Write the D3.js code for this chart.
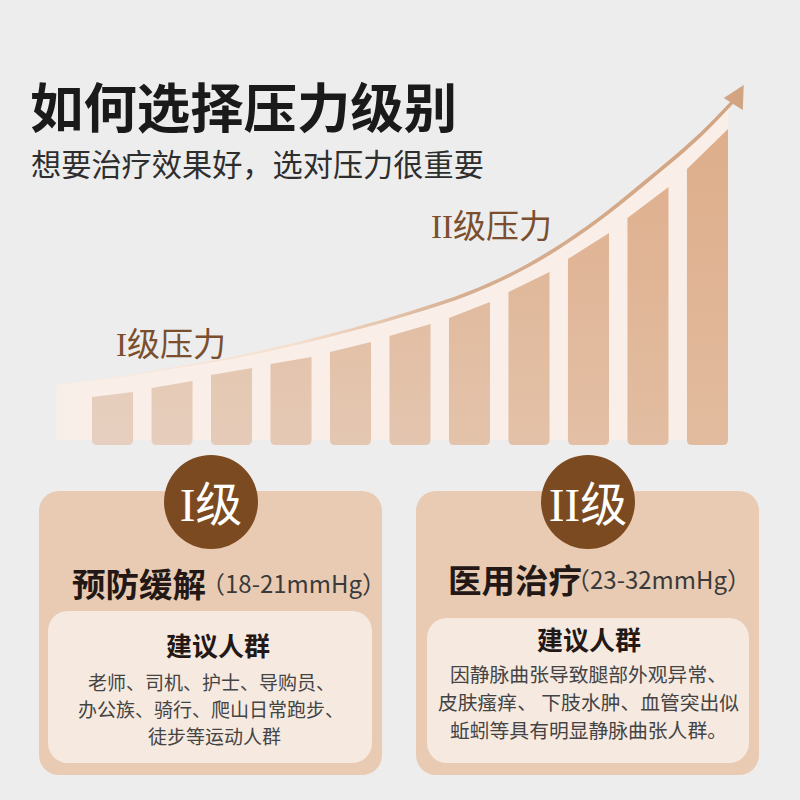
<!DOCTYPE html>
<html lang="zh">
<head>
  <meta charset="UTF-8">
  <title>如何选择压力级别</title>
  <script src="https://d3js.org/d3.v7.min.js"></script>
  <style>
    body { margin: 0; background: #ededed; }
    svg { display: block; }
    text { font-family: "Noto Sans CJK SC", "Noto Sans", sans-serif; }
    .serif { font-family: "Liberation Serif", "Noto Sans CJK SC", serif; font-weight: 400; }
  </style>
</head>
<body>
<svg id="chart" width="800" height="800"></svg>
<script>
// bars
const barNames = ["1", "2", "3", "4", "5", "6", "7", "8", "9", "10", "11"];
const barLeftValues = [48, 57, 70, 81, 93, 109, 127, 153, 186, 227, 276];
const barRightValues = [53, 64, 77, 88, 103, 121, 143, 173, 212, 258, 316];

// rising curve, position in bar steps
const curveSteps = [-0.95, 0, 1, 2, 3, 4, 5, 6, 7, 8, 9, 10, 10.45];
const curveValues = [60, 67, 77, 87, 100, 115, 132, 152, 180, 218, 265, 317, 345];
const curveThickness = [0.5, 1, 1.5, 2, 2.5, 3, 3.4, 3.8, 4.2, 4.6, 5, 5.2, 5.2];
const ribbonEnd = [10.35, 338];
const arrowTip = [10.61, 360];

const title = "如何选择压力级别";
const subtitle = "想要治疗效果好，选对压力很重要";
const levelLabels = ["I级压力", "II级压力"];
const badgeLabels = ["I级", "II级"];
const cardNames = ["预防缓解", "医用治疗"];
const cardRanges = ["（18-21mmHg）", "（23-32mmHg）"];
const cardHeading = "建议人群";
const cardLinesA = ["老师、司机、护士、导购员、", "办公族、骑行、爬山日常跑步、", "徒步等运动人群"];
const cardLinesB = ["因静脉曲张导致腿部外观异常、", "皮肤瘙痒、 下肢水肿、血管突出似", "蚯蚓等具有明显静脉曲张人群。"];

const svg = d3.select("#chart");
const defs = svg.append("defs");

const x = d3.scaleBand().domain(barNames).range([92, 728]).paddingInner(0.31);
const y = d3.scaleLinear().domain([0, 400]).range([445, 45]);
const stepX = d3.scaleLinear()
  .domain([0, 10])
  .range([x("1") + x.bandwidth() / 2, x("11") + x.bandwidth() / 2]);

const shade = d3.scaleLinear().domain([0, 10]).range([0, 1]);
const topColor = d3.interpolateRgb("#e6cebc", "#deae8b");
const bottomColor = d3.interpolateRgb("#e6cfbf", "#e2bb9e");

function addGradient(id, dir, stops) {
  const g = defs.append("linearGradient").attr("id", id)
    .attr("x1", 0).attr("y1", 0)
    .attr("x2", dir === "h" ? 1 : 0).attr("y2", dir === "h" ? 0 : 1);
  stops.forEach(s => {
    g.append("stop").attr("offset", s[0]).attr("stop-color", s[1]).attr("stop-opacity", s[2] === undefined ? 1 : s[2]);
  });
}

addGradient("ribbon", "h", [[0, "#f9efe8", 0.75], [0.04, "#f9efe8"], [1, "#f9efe8"]]);
addGradient("curveFill", "h", [[0, "#f8ede4"], [0.35, "#f5dfce"], [0.6, "#d6ae90"], [1, "#d2a482"]]);

// light ribbon behind the bars
const ribbon = d3.area()
  .x(d => stepX(d[0]))
  .y0(y(5))
  .y1(d => y(d[1]))
  .curve(d3.curveMonotoneX);

const ribbonRows = d3.zip(curveSteps, curveValues).filter(d => d[0] <= 10);
ribbonRows.push(ribbonEnd);
svg.append("path").attr("d", ribbon(ribbonRows))
  .attr("fill", "url(#ribbon)");

// bars, sloped top and rounded bottom corners
const radius = 5;
svg.append("g").selectAll("path")
  .data(barNames)
  .join("path")
  .attr("d", (d, i) => {
    const left = x(d), right = left + x.bandwidth(), base = y(0);
    return `M${left},${y(barLeftValues[i])}L${right},${y(barRightValues[i])}L${right},${base - radius}` +
      `Q${right},${base} ${right - radius},${base}L${left + radius},${base}Q${left},${base} ${left},${base - radius}Z`;
  })
  .attr("fill", (d, i) => {
    const id = "bar" + i;
    addGradient(id, "v", [[0, topColor(shade(i))], [1, bottomColor(shade(i))]]);
    return `url(#${id})`;
  });

// curve that thickens towards the arrow
const curve = d3.area()
  .x(d => stepX(d[0]))
  .y0(d => y(d[1]) + d[2] / 2)
  .y1(d => y(d[1]) - d[2] / 2)
  .curve(d3.curveMonotoneX);
svg.append("path")
  .attr("d", curve(d3.zip(curveSteps, curveValues, curveThickness)))
  .attr("fill", "url(#curveFill)");

const tipX = stepX(arrowTip[0]), tipY = y(arrowTip[1]);
svg.append("path")
  .attr("d", d3.line()([[0, 0], [-20, 13], [-9, 20], [-1, 25]]) + "Z")
  .attr("transform", `translate(${tipX},${tipY})`)
  .attr("fill", "#d2a482");

// headings
svg.append("text").attr("x", 30).attr("y", 128).attr("font-size", 53.4).attr("font-weight", 700)
  .attr("fill", "#1a1a1a").text(title);
svg.append("text").attr("x", 31).attr("y", 176).attr("font-size", 30.2).attr("font-weight", 400)
  .attr("fill", "#2e2e2e").text(subtitle);

svg.append("text").attr("class", "serif").attr("x", 116).attr("y", 356).attr("font-size", 33)
  .attr("fill", "#7b4f2d").text(levelLabels[0]);
svg.append("text").attr("class", "serif").attr("x", 431).attr("y", 238).attr("font-size", 33)
  .attr("fill", "#7b4f2d").text(levelLabels[1]);

// cards
const cards = [
  { left: 39, cx: 211, innerLeft: 48, innerRight: 372, innerTop: 611, nameX: 72, nameY: 597, rangeX: 201, headX: 218, headY: 656,
    lines: cardLinesA, lineX: [88, 78, 148], lineY: [690, 717, 744], size: 19 },
  { left: 416, cx: 588, innerLeft: 427, innerRight: 749, innerTop: 618, nameX: 448, nameY: 593, rangeX: 566, headX: 589, headY: 650,
    lines: cardLinesB, lineX: [450, 438, 450], lineY: [682, 710, 738], size: 19.8 }
];

cards.forEach((c, i) => {
  svg.append("rect").attr("x", c.left).attr("y", 491).attr("width", 343).attr("height", 284)
    .attr("rx", 20).attr("fill", "#e9cbb3");
  svg.append("rect").attr("x", c.innerLeft).attr("y", c.innerTop)
    .attr("width", c.innerRight - c.innerLeft).attr("height", 763 - c.innerTop)
    .attr("rx", 20).attr("fill", "#f6e9e0");
  svg.append("circle").attr("cx", c.cx).attr("cy", 502).attr("r", 47).attr("fill", "#7b4a21");
  svg.append("text").attr("class", "serif").attr("x", c.cx).attr("y", 521).attr("font-size", 47)
    .attr("text-anchor", "middle").attr("fill", "#fff").text(badgeLabels[i]);
  svg.append("text").attr("x", c.nameX).attr("y", c.nameY).attr("font-size", 33.5).attr("font-weight", 700)
    .attr("fill", "#231815").text(cardNames[i]);
  svg.append("text").attr("x", c.rangeX).attr("y", c.nameY - 4).attr("font-size", 24)
    .attr("fill", "#3a3a3a").text(cardRanges[i]);
  svg.append("text").attr("x", c.headX).attr("y", c.headY).attr("font-size", 26).attr("font-weight", 700)
    .attr("text-anchor", "middle").attr("fill", "#231815").text(cardHeading);
  c.lines.forEach((line, j) => {
    svg.append("text").attr("x", c.lineX[j]).attr("y", c.lineY[j]).attr("font-size", c.size)
      .attr("fill", "#444").text(line);
  });
});
</script>
</body>
</html>
